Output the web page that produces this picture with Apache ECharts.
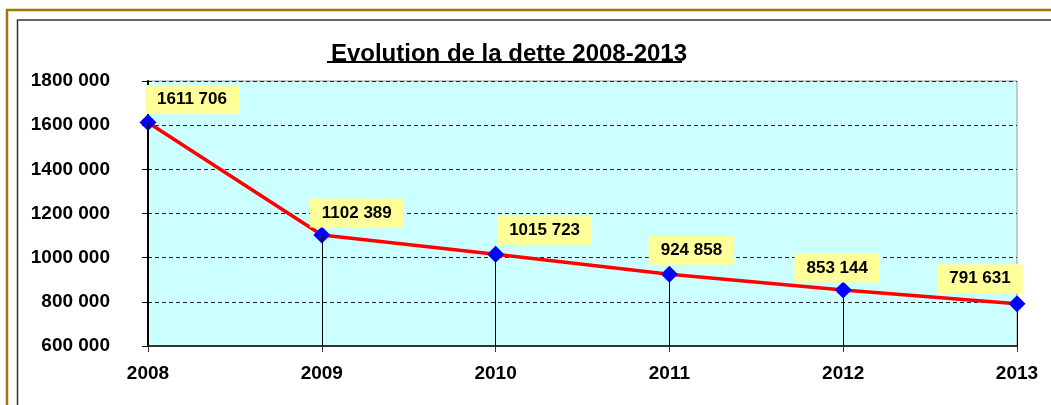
<!DOCTYPE html>
<html>
<head>
<meta charset="utf-8">
<script src="https://cdn.jsdelivr.net/npm/echarts@6/dist/echarts.min.js"></script>
<style>
  html, body { margin: 0; padding: 0; background: #fff; }
  #chart { width: 1051px; height: 405px; }
</style>
</head>
<body>
<div id="chart"></div>
<script>
// donnees
var annees = ['2008', '2009', '2010', '2011', '2012', '2013'];
var dette = [1611706, 1102389, 1015723, 924858, 853144, 791631];
var axeMin = 600000;
var axeMax = 1800000;
var pas = 200000;

// decalage des etiquettes (x, y) par point
var decalages = [[44, 0], [35, 1], [49, -1], [22, -1], [-6, 1], [-37, -2]];

function milliers(v) {
  var haut = Math.floor(v / 1000);
  var bas = String(v % 1000);
  while (bas.length < 3) bas = '0' + bas;
  return haut + ' ' + bas;
}

var points = [];
for (var i = 0; i < dette.length; i++) {
  points.push({
    value: dette[i],
    label: { offset: decalages[i] }
  });
}

// lignes verticales sous chaque point
var verticales = [];
for (var j = 0; j < dette.length; j++) {
  verticales.push([{ coord: [j, dette[j]] }, { coord: [j, axeMin] }]);
}

var myChart = echarts.init(document.getElementById('chart'));

var option = {
  animation: false,
  textStyle: { fontFamily: 'Liberation Sans, Arial, sans-serif' },
  title: {
    text: 'Evolution de la dette 2008-2013',
    left: 504,
    top: 37,
    textAlign: 'center',
    textStyle: { fontSize: 24, fontWeight: 'bold', color: '#000', fontFamily: 'Liberation Sans, Arial, sans-serif' }
  },
  graphic: [
    { type: 'rect', shape: { x: 7, y: 10, width: 1200, height: 600 }, style: { fill: 'none', stroke: '#9B7A0A', lineWidth: 2.5 }, silent: true },
    { type: 'rect', shape: { x: 17.5, y: 20, width: 1200, height: 600 }, style: { fill: 'none', stroke: '#333', lineWidth: 1.5 }, silent: true },
    { type: 'line', shape: { x1: 327, y1: 62, x2: 682, y2: 62 }, style: { stroke: '#000', lineWidth: 2 }, silent: true }
  ],
  grid: {
    left: 148,
    right: 34,
    top: 81,
    bottom: 59,
    show: true,
    backgroundColor: '#CCFFFF',
    borderColor: '#999',
    borderWidth: 1
  },
  xAxis: {
    type: 'category',
    data: annees,
    boundaryGap: false,
    axisLine: { lineStyle: { color: '#333', width: 2 } },
    axisTick: { show: true, length: 6, lineStyle: { color: '#333' } },
    axisLabel: { color: '#000', fontSize: 19, fontWeight: 'bold', margin: 18 },
    splitLine: { show: false }
  },
  yAxis: {
    type: 'value',
    min: axeMin,
    max: axeMax,
    interval: pas,
    axisLine: { show: true, lineStyle: { color: '#000', width: 2 } },
    axisTick: { show: true, length: 6, lineStyle: { color: '#000' } },
    axisLabel: {
      color: '#000', fontSize: 19, fontWeight: 'bold', margin: 38,
      formatter: function (v) { return milliers(v); }
    },
    splitLine: { lineStyle: { color: '#222', type: [4, 3], width: 1 } }
  },
  series: [
    {
      name: 'dette',
      type: 'line',
      data: points,
      symbol: 'diamond',
      symbolSize: 17,
      itemStyle: { color: '#0000FF' },
      lineStyle: { color: '#FF0000', width: 3.5 },
      z: 3,
      label: {
        show: true,
        position: 'top',
        distance: 0,
        color: '#000',
        fontSize: 17,
        fontWeight: 'bold',
        backgroundColor: '#FFFF99',
        padding: [6, 12, 6, 12],
        formatter: function (p) { return milliers(p.value); }
      },
      markLine: {
        silent: true,
        symbol: 'none',
        animation: false,
        label: { show: false },
        lineStyle: { color: '#000', type: 'solid', width: 1 },
        emphasis: { disabled: true },
        data: verticales
      }
    }
  ]
};

myChart.setOption(option);
</script>
</body>
</html>
